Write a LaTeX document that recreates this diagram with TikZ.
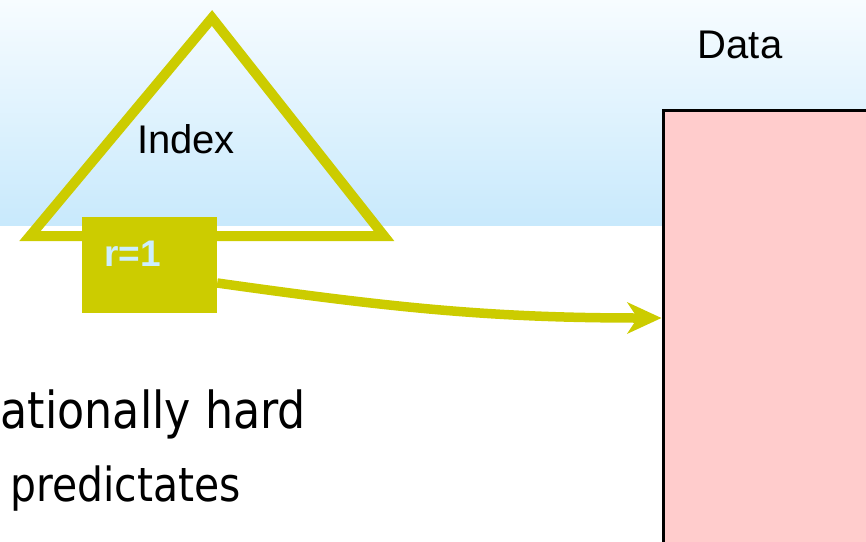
\documentclass[tikz,border=0pt]{standalone}
\usepackage{fontspec}
\setmainfont{Liberation Sans}
\newfontfamily\talkfont{DejaVu Sans}[FakeStretch=0.87]
\usetikzlibrary{arrows.meta,positioning,calc}
\definecolor{idxyellow}{RGB}{204,204,0}
\definecolor{rowpink}{RGB}{255,204,204}
\definecolor{skytop}{RGB}{247,252,255}
\definecolor{skybottom}{RGB}{200,233,252}
\definecolor{ptrblue}{RGB}{204,238,255}

\begin{document}
\begin{tikzpicture}[x=1pt,y=-1pt,
    idx/.style={draw=idxyellow,line width=10pt,line join=miter},
    ptrbox/.style={fill=idxyellow,minimum width=135pt,minimum height=96pt,inner sep=0pt},
    ptrtext/.style={text=ptrblue,font=\fontsize{37}{44}\selectfont\bfseries,inner sep=0pt},
    databox/.style={draw=black,line width=3pt,fill=rowpink,minimum width=274pt,minimum height=520pt,inner sep=0pt},
    lbl/.style={font=\fontsize{40}{48}\selectfont,inner sep=0pt},
    talk/.style={font=\talkfont\fontsize{51}{60}\selectfont,inner sep=0pt},
    subtalk/.style={font=\talkfont\fontsize{47}{56}\selectfont,inner sep=0pt},
    ptrarrow/.style={draw=idxyellow,line width=9.5pt,-{Stealth[length=34pt,width=31pt,inset=10pt]}}]
  \useasboundingbox (0,0) rectangle (866,541);
  \shade[top color=skytop,bottom color=skybottom] (0,0) rectangle (866,225);
  % data pages
  \node[databox] (data) at (800,370) {};
  \node[lbl,anchor=base] (datalbl) at (740,58) {Data};
  % index tree
  \draw[idx] (212,18) -- (384,236) -- (30,236) -- cycle;
  \node[lbl,anchor=base] (index) at (186,153) {Index};
  \node[ptrbox] (ptr) at (149.5,265) {};
  \node[ptrtext,anchor=base west] (rval) at ($(ptr.north west)+(22,50)$) {r=1};
  \draw[ptrarrow] ([yshift=-18pt]ptr.east) to[out=-8,in=180] ([yshift=52pt]data.west);
  % slide text
  \node[talk,anchor=base west] (hard) at (0.5,428) {ationally hard};
  \node[subtalk,anchor=base west] (pred) at (10,501) {predictates};
\end{tikzpicture}
\end{document}
